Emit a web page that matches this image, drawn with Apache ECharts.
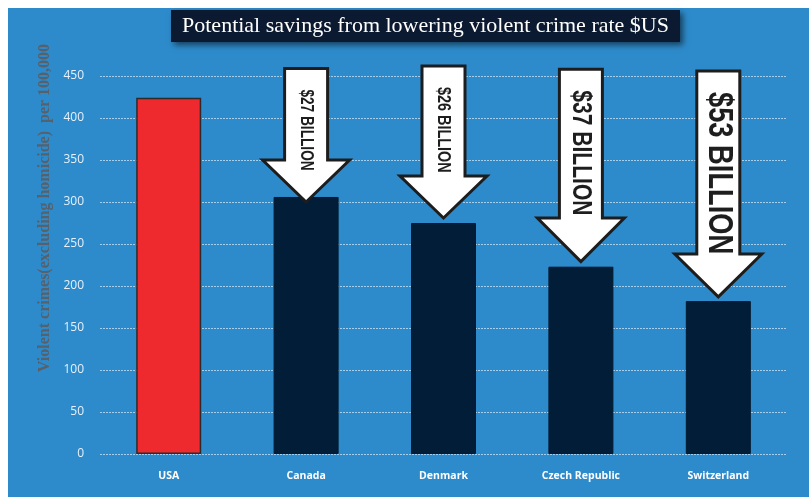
<!DOCTYPE html>
<html>
<head>
<meta charset="utf-8">
<script src="https://cdn.jsdelivr.net/npm/echarts@6/dist/echarts.min.js"></script>
<style>
  html, body { margin: 0; padding: 0; background: #ffffff; }
  #wrap { position: relative; width: 809px; height: 497px; overflow: hidden; }
  #bg { position: absolute; left: 8px; top: 8px; right: 0; bottom: 0; background: #2e8bcb; }
  #main { position: absolute; left: 0; top: 0; width: 809px; height: 497px; }
</style>
</head>
<body>
<div id="wrap"><div id="bg"></div><div id="main"></div></div>
<script>
// ---- data ----
const categories = ['USA', 'Canada', 'Denmark', 'Czech Republic', 'Switzerland'];
const crimeRates = [424, 306, 275, 223, 182];
const yTicks = [0, 50, 100, 150, 200, 250, 300, 350, 400, 450];
const titleText = 'Potential savings from lowering violent crime rate $US';
const yAxisTitle = 'Violent crimes(excluding homicide)  per 100,000';

// savings arrows: category, top value, head value, tip value, label
const arrowCats   = ['Canada', 'Denmark', 'Czech Republic', 'Switzerland'];
const arrowTop    = [459, 462, 458, 456];
const arrowHead   = [350, 331, 281, 238];
const arrowTip    = [300, 281, 229, 187];
const arrowLabels = ['$27 BILLION', '$26 BILLION', '$37 BILLION', '$53 BILLION'];
const arrowFont   = [17.5, 18.5, 27, 35];

const chart = echarts.init(document.getElementById('main'), null, { renderer: 'canvas' });

const barData = crimeRates.map((v, i) => ({
  value: v,
  itemStyle: i === 0
    ? { color: '#ee2a2f', borderColor: '#2b2b2b', borderWidth: 1.5 }
    : { color: '#021d38', borderColor: '#021a30', borderWidth: 1 }
}));

const arrowData = arrowCats.map((c, i) => [c, arrowTop[i], arrowHead[i], arrowTip[i], i]);

chart.setOption({
  animation: false,
  backgroundColor: 'transparent',
  grid: { left: 100, right: 22, top: 76, bottom: 43, containLabel: false },
  xAxis: {
    type: 'category',
    data: categories,
    axisLine: { show: false },
    axisTick: { show: false },
    axisLabel: { color: '#ffffff', fontFamily: 'Open Sans', fontWeight: 'bold', fontSize: 10.5, margin: 17 }
  },
  yAxis: {
    type: 'value',
    min: 0,
    max: yTicks[yTicks.length - 1],
    interval: 50,
    axisLine: { show: false },
    axisTick: { show: false },
    axisLabel: { color: '#e6f0fa', fontFamily: 'Open Sans', fontSize: 12, margin: 16 },
    splitLine: { show: true, lineStyle: { color: '#a6cdea', type: [2, 1], width: 1 } }
  },
  graphic: [
    {
      type: 'rect',
      shape: { x: 171, y: 10, width: 509, height: 32 },
      style: { fill: '#0b1a31', shadowBlur: 6, shadowOffsetX: 3, shadowOffsetY: 3, shadowColor: 'rgba(0,0,0,0.55)' },
      z: 10
    },
    {
      type: 'text',
      x: 425.5, y: 26,
      style: { text: titleText, fill: '#ffffff', font: '22px "Liberation Serif"', align: 'center', verticalAlign: 'middle' },
      z: 11
    },
    {
      type: 'text',
      x: 45, y: 208,
      rotation: Math.PI / 2,
      style: { text: yAxisTitle, fill: '#56616c', font: 'bold 16px "Liberation Serif"', align: 'center', verticalAlign: 'middle' },
      z: 11
    }
  ],
  series: [
    {
      type: 'bar',
      data: barData,
      barWidth: 65,
      z: 2
    },
    {
      type: 'custom',
      clip: false,
      z: 5,
      data: arrowData,
      encode: { x: 0, y: [1, 2, 3] },
      renderItem: function (params, api) {
        const idx = api.value(4);
        const cat = arrowData[params.dataIndex][0];
        const pTop = api.coord([cat, api.value(1)]);
        const pHead = api.coord([cat, api.value(2)]);
        const pTip = api.coord([cat, api.value(3)]);
        const cx = pTop[0];
        const sw = 21.5, hw = 43.5;
        const pts = [
          [cx - sw, pTop[1]], [cx + sw, pTop[1]], [cx + sw, pHead[1]], [cx + hw, pHead[1]],
          [cx, pTip[1]], [cx - hw, pHead[1]], [cx - sw, pHead[1]]
        ];
        const fs = arrowFont[idx];
        return {
          type: 'group',
          children: [
            {
              type: 'polygon',
              shape: { points: pts },
              style: { fill: '#ffffff', stroke: '#1d1d1d', lineWidth: 3, lineJoin: 'miter' }
            },
            {
              type: 'text',
              x: cx, y: pTop[1] + 21,
              rotation: -Math.PI / 2,
              scaleX: 0.78,
              style: {
                text: arrowLabels[idx],
                fill: '#1e1e1e',
                font: 'bold ' + fs + 'px "Liberation Sans"',
                align: 'left',
                verticalAlign: 'middle'
              }
            }
          ]
        };
      }
    }
  ]
});
</script>
</body>
</html>
